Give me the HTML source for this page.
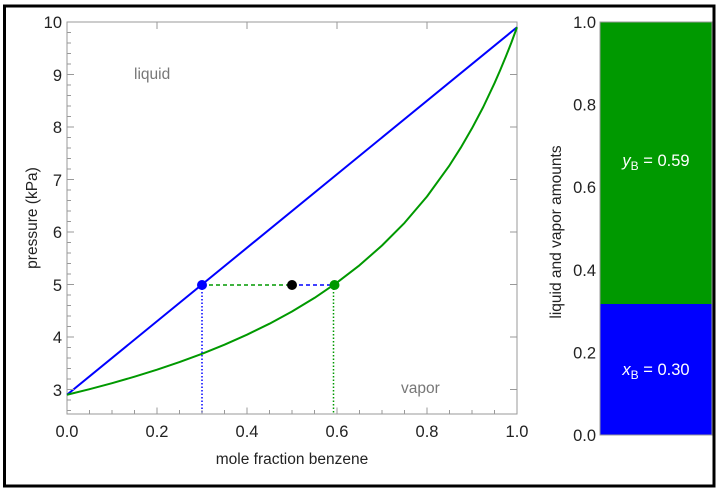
<!DOCTYPE html>
<html><head><meta charset="utf-8"><style>
body{margin:0;background:#fff;}
svg{display:block;font-family:"Liberation Sans",sans-serif;}
</style></head><body>
<svg width="717" height="490" viewBox="0 0 717 490" xmlns="http://www.w3.org/2000/svg">
<rect x="0" y="0" width="717" height="490" fill="#fff"/>
<rect x="4.5" y="6" width="709.5" height="480" fill="none" stroke="#000" stroke-width="3"/>
<rect x="67" y="22" width="450" height="392" fill="none" stroke="#999" stroke-width="1"/>
<line x1="67" y1="394.75" x2="517" y2="27.25" stroke="#0000ff" stroke-width="2"/>
<polyline fill="none" stroke="#009900" stroke-width="2" stroke-linejoin="round" points="67,394.75 89.5,389.2 112,383.2 134.5,376.7 157,369.7 179.5,362.1 202,353.8 224.5,344.7 247,334.7 269.5,323.7 292,311.5 314.5,297.9 337,282.6 359.5,265.3 382,245.5 404.5,222.9 427,196.5 449.5,165.4 460.75,147.7 472,128.3 483.25,107.0 494.5,83.2 500.1,70.4 505.75,56.8 511.4,42.5 517,27.25"/>
<line x1="202" y1="285" x2="292" y2="285" stroke="#009900" stroke-width="1.6" stroke-dasharray="4,3"/>
<line x1="292" y1="285" x2="332.5" y2="285" stroke="#0000ff" stroke-width="1.6" stroke-dasharray="4,3"/>
<line x1="202" y1="285" x2="202" y2="414" stroke="#0000ff" stroke-width="1.5" stroke-dasharray="1.5,2"/>
<line x1="333.5" y1="285" x2="333.5" y2="414" stroke="#009900" stroke-width="1.5" stroke-dasharray="1.5,2"/>
<circle cx="202" cy="285" r="5" fill="#0000ff"/>
<circle cx="292" cy="285" r="5" fill="#000"/>
<circle cx="334.5" cy="285" r="5" fill="#009900"/>
<text x="134" y="79" font-size="15.5" fill="#777">liquid</text>
<text x="401" y="393" font-size="15.5" fill="#777">vapor</text>
<g font-size="16.5" fill="#222" text-anchor="end">
<text x="62" y="28">10</text><text x="62" y="81">9</text><text x="62" y="133">8</text><text x="62" y="186">7</text><text x="62" y="238">6</text><text x="62" y="291">5</text><text x="62" y="343">4</text><text x="62" y="396">3</text>
</g>
<g font-size="16.5" fill="#222" text-anchor="middle">
<text x="67" y="437">0.0</text><text x="157" y="437">0.2</text><text x="247" y="437">0.4</text><text x="337" y="437">0.6</text><text x="427" y="437">0.8</text><text x="517" y="437">1.0</text>
</g>
<text x="292" y="464" font-size="15.5" fill="#222" text-anchor="middle">mole fraction benzene</text>
<text transform="translate(37,218) rotate(-90)" font-size="15.5" fill="#222" text-anchor="middle">pressure (kPa)</text>
<rect x="600" y="22" width="112" height="283" fill="#009900"/>
<rect x="600" y="304" width="112" height="131" fill="#0000ff"/>
<rect x="600" y="22" width="112" height="413" fill="none" stroke="#999" stroke-width="1"/>
<g font-size="16.5" fill="#222" text-anchor="end">
<text x="596" y="28">1.0</text><text x="596" y="110.6">0.8</text><text x="596" y="193.2">0.6</text><text x="596" y="275.8">0.4</text><text x="596" y="358.4">0.2</text><text x="596" y="441">0.0</text>
</g>
<text transform="translate(561,232) rotate(-90)" font-size="15.5" fill="#222" text-anchor="middle">liquid and vapor amounts</text>
<text x="656" y="166" font-size="16.5" fill="#fff" text-anchor="middle"><tspan font-style="italic">y</tspan><tspan font-size="12" dy="4">B</tspan><tspan dy="-4"> = 0.59</tspan></text>
<text x="656" y="375" font-size="16.5" fill="#fff" text-anchor="middle"><tspan font-style="italic">x</tspan><tspan font-size="12" dy="4">B</tspan><tspan dy="-4"> = 0.30</tspan></text>
<g stroke="#999" stroke-width="1">
<path d="M67,414.5 v-7 M157,414.5 v-7 M247,414.5 v-7 M337,414.5 v-7 M427,414.5 v-7 M517,414.5 v-7
M89.5,414 v-4 M112,414 v-4 M134.5,414 v-4 M179.5,414 v-4 M202,414 v-4 M224.5,414 v-4 M269.5,414 v-4 M292,414 v-4 M314.5,414 v-4 M359.5,414 v-4 M382,414 v-4 M404.5,414 v-4 M449.5,414 v-4 M472,414 v-4 M494.5,414 v-4
M67,22 h7 M67,74.5 h7 M67,127 h7 M67,179.5 h7 M67,232 h7 M67,284.5 h7 M67,337 h7 M67,389.5 h7
M67,32.5 h4 M67,43 h4 M67,53.5 h4 M67,64 h4 M67,85 h4 M67,95.5 h4 M67,106 h4 M67,116.5 h4 M67,137.5 h4 M67,148 h4 M67,158.5 h4 M67,169 h4 M67,190 h4 M67,200.5 h4 M67,211 h4 M67,221.5 h4 M67,242.5 h4 M67,253 h4 M67,263.5 h4 M67,274 h4 M67,295 h4 M67,305.5 h4 M67,316 h4 M67,326.5 h4 M67,347.5 h4 M67,358 h4 M67,368.5 h4 M67,379 h4 M67,400 h4 M67,410.5 h4
M517,74.5 h-7 M517,127 h-7 M517,179.5 h-7 M517,232 h-7 M517,284.5 h-7 M517,337 h-7 M517,389.5 h-7
M157,22 v7 M247,22 v7 M337,22 v7 M427,22 v7"/>
</g>
</svg>
</body></html>
